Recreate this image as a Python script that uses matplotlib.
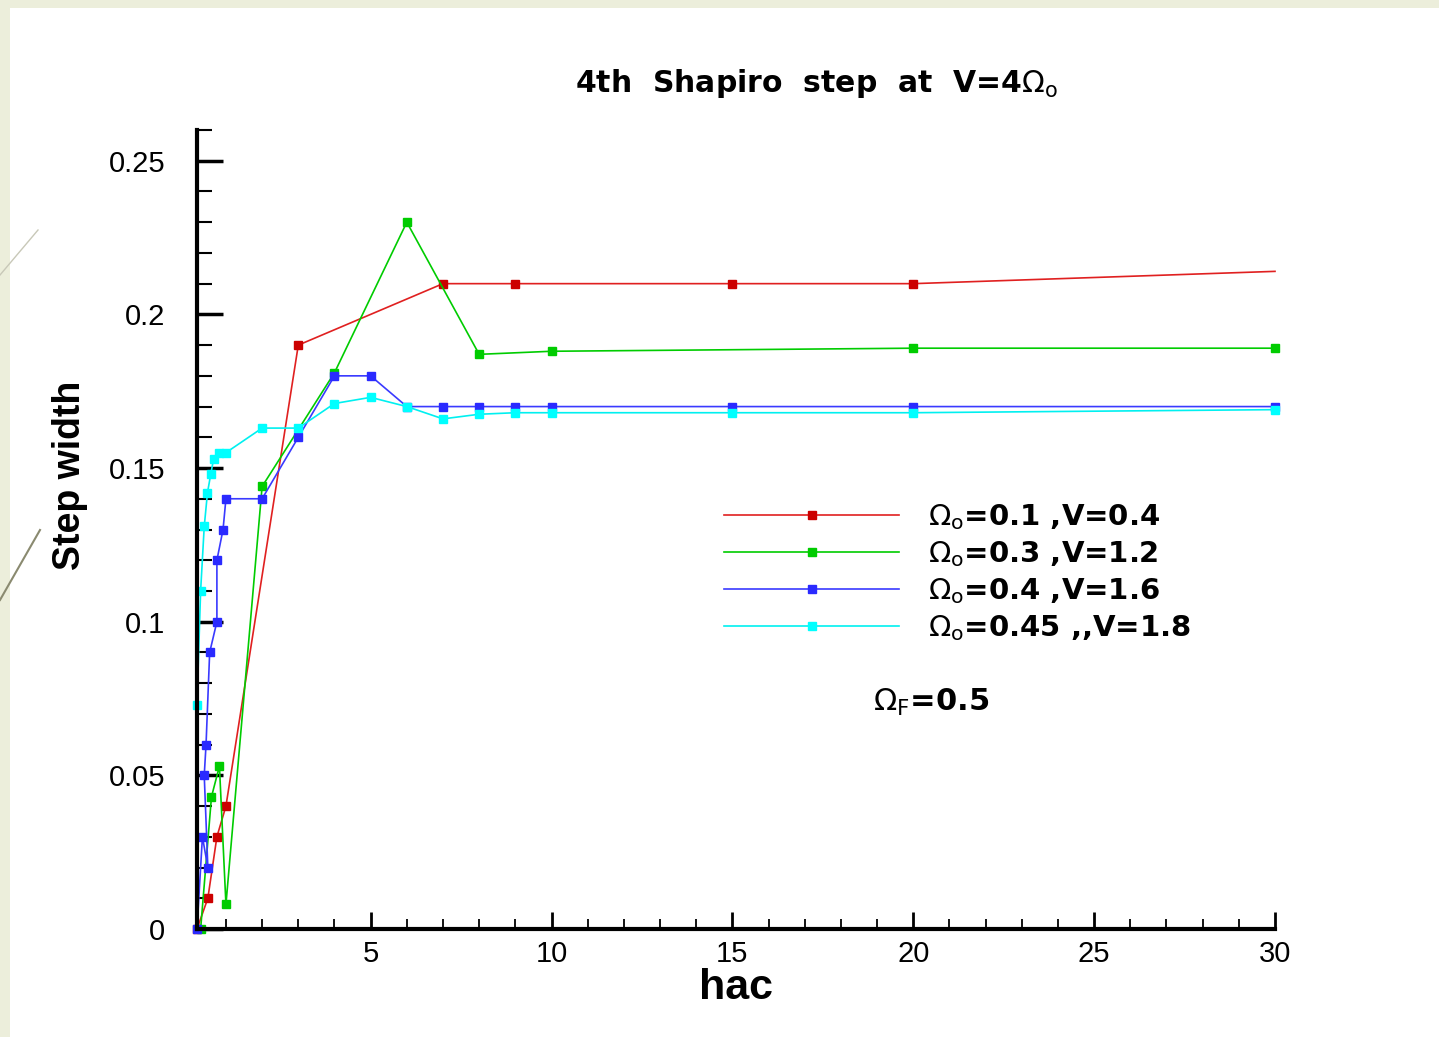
import matplotlib
matplotlib.use("Agg")
import matplotlib.pyplot as plt
from matplotlib.patches import Rectangle
from matplotlib.lines import Line2D
from matplotlib.ticker import MultipleLocator, FixedLocator

# data
red_x = [0.2, 0.5, 0.75, 1.0, 3, 7, 9, 15, 20, 30]
red_y = [0.0, 0.01, 0.03, 0.04, 0.19, 0.21, 0.21, 0.21, 0.21, 0.214]

green_x = [0.3, 0.6, 0.82, 1.0, 2, 4, 6, 8, 10, 20, 30]
green_y = [0.0, 0.043, 0.053, 0.008, 0.144, 0.181, 0.230, 0.187, 0.188, 0.189, 0.189]

blue_x = [0.2, 0.35, 0.5, 0.4, 0.45, 0.55, 0.75, 0.75, 0.92, 1.0, 2, 3, 4, 5, 6, 7, 8, 9, 10, 15, 20, 30]
blue_y = [0.0, 0.03, 0.02, 0.05, 0.06, 0.09, 0.10, 0.12, 0.13, 0.14, 0.14, 0.16, 0.18, 0.18,
          0.17, 0.17, 0.17, 0.17, 0.17, 0.17, 0.17, 0.17]

cyan_x = [0.2, 0.3, 0.4, 0.49, 0.58, 0.66, 0.8, 1.0, 2, 3, 4, 5, 6, 7, 8, 9, 10, 15, 20, 30]
cyan_y = [0.073, 0.11, 0.131, 0.142, 0.148, 0.153, 0.155, 0.155, 0.163, 0.163, 0.171, 0.173,
          0.170, 0.166, 0.1675, 0.168, 0.168, 0.168, 0.168, 0.169]

labels = [r"$\Omega_{\mathrm{o}}$=0.1 ,V=0.4",
          r"$\Omega_{\mathrm{o}}$=0.3 ,V=1.2",
          r"$\Omega_{\mathrm{o}}$=0.4 ,V=1.6",
          r"$\Omega_{\mathrm{o}}$=0.45 ,,V=1.8"]
yticks = [0, 0.05, 0.1, 0.15, 0.2, 0.25]
ytick_labels = ["0", "0.05", "0.1", "0.15", "0.2", "0.25"]
xticks = [5, 10, 15, 20, 25, 30]

W, H = 1439, 1037
fig = plt.figure(figsize=(W / 100, H / 100), dpi=100, facecolor="#eceedb")
fig.patches.append(Rectangle((10 / W, 0), 1, 1 - 8 / H, transform=fig.transFigure,
                             facecolor="white", edgecolor="none", zorder=-5))
# faint slide decoration on the left edge
fig.add_artist(Line2D([0, 38 / W], [1 - 275 / H, 1 - 230 / H], color="#c8c8b8", lw=1, zorder=-4))
fig.add_artist(Line2D([0, 40 / W], [1 - 600 / H, 1 - 530 / H], color="#8a8a70", lw=1.5, zorder=-4))

ax = fig.add_axes([197 / W, 1 - 929 / H, (1275 - 197) / W, (929 - 130) / H])
ax.set_facecolor("none")

series = [(red_x, red_y, "#e02020", "#cc0000"),
          (green_x, green_y, "#00cc00", "#00cc00"),
          (blue_x, blue_y, "#3a3aff", "#2a2aff"),
          (cyan_x, cyan_y, "#00f0f0", "#00ffff")]
for (xs, ys, lc, mc), lab in zip(series, labels):
    mev = list(range(len(xs) - 1)) if lc == "#e02020" else None
    ax.plot(xs, ys, color=lc, lw=1.2, marker="s", ms=6, mfc=mc, mec=mc,
            markevery=mev, label=lab, clip_on=False)

ax.set_xlim(0.2, 30)
ax.set_ylim(0, 0.26)
ax.spines["top"].set_visible(False)
ax.spines["right"].set_visible(False)
ax.spines["left"].set_linewidth(3)
ax.spines["bottom"].set_linewidth(3)

ax.xaxis.set_major_locator(FixedLocator(xticks))
ax.xaxis.set_minor_locator(MultipleLocator(1))
ax.set_yticks(yticks)
ax.set_yticklabels(ytick_labels)
ax.yaxis.set_minor_locator(MultipleLocator(0.01))
ax.tick_params(axis="y", which="major", direction="in", length=19, width=2.5,
               labelsize=21, pad=23)
ax.tick_params(axis="y", which="minor", direction="in", length=11, width=1.5)
ax.tick_params(axis="x", which="major", direction="in", length=12, width=2,
               labelsize=21, pad=8)
ax.tick_params(axis="x", which="minor", direction="in", length=7, width=1.3)
for t in ax.get_xticklabels() + ax.get_yticklabels():
    t.set_fontfamily("Liberation Sans")

ax.set_xlabel("hac", fontsize=31, fontweight="bold", family="Liberation Sans",
              labelpad=0)
ax.set_ylabel("Step width", fontsize=27, fontweight="bold", family="Liberation Sans")
ax.yaxis.set_label_coords(-0.101, 0.568)

fig.text(817 / W, 1 - 83 / H, r"4th  Shapiro  step  at  V=4$\Omega_{\mathrm{o}}$",
         ha="center", va="center", fontsize=21.5, fontweight="bold", family="DejaVu Sans")

ax.legend(loc="upper left", bbox_to_anchor=(724 / W, 1 - 502 / H),
          bbox_transform=fig.transFigure, frameon=False, numpoints=1,
          handlelength=6.0, handletextpad=1.0, labelspacing=0.25, borderpad=0,
          borderaxespad=0, prop={"family": "DejaVu Sans", "weight": "bold", "size": 21})

fig.text(873 / W, 1 - 702 / H, r"$\Omega_{\mathrm{F}}$=0.5", ha="left", va="center",
         fontsize=22, fontweight="bold", family="DejaVu Sans")

fig.savefig("out.png", dpi=100, facecolor=fig.get_facecolor())
